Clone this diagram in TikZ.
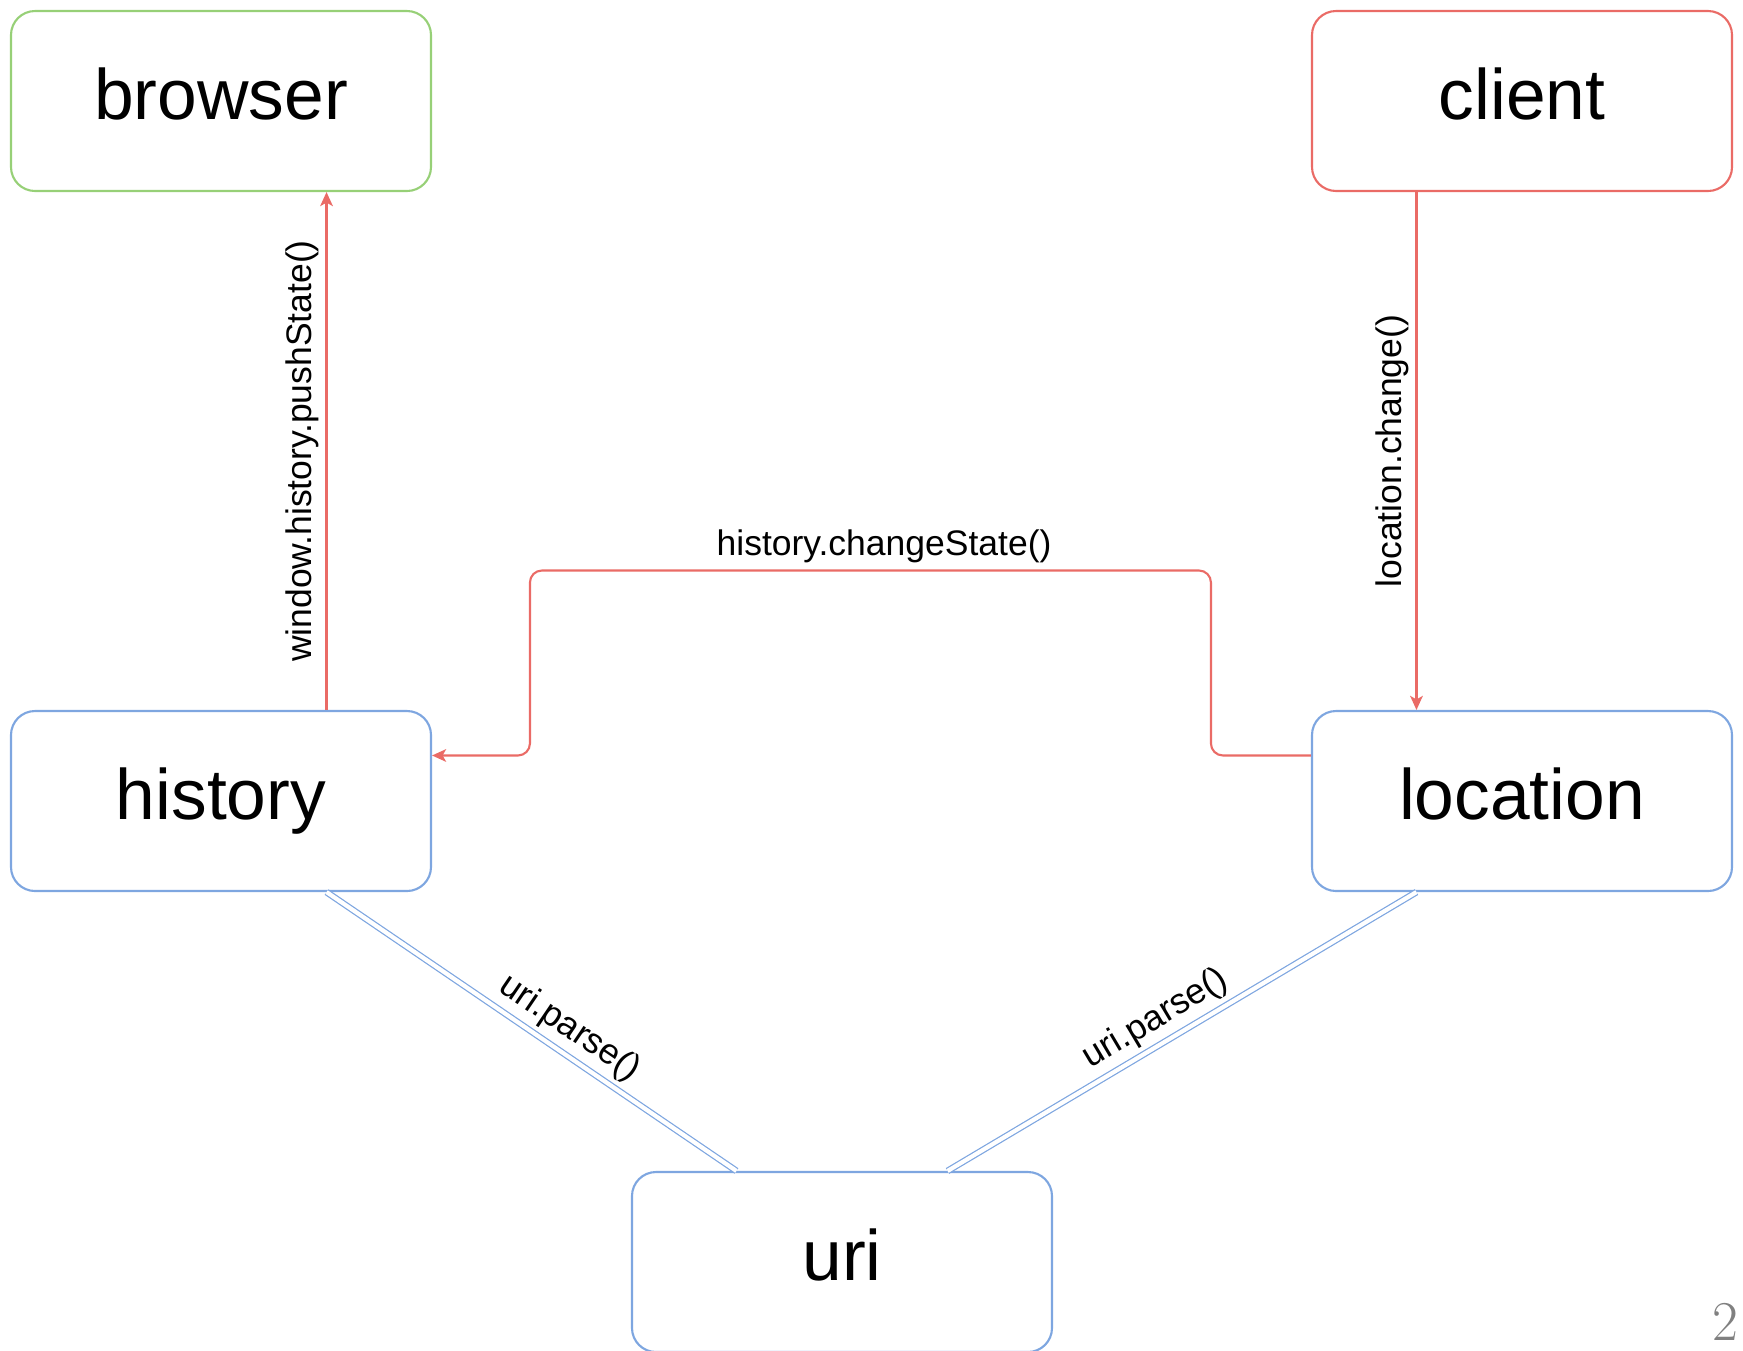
\documentclass[tikz,border=0pt]{standalone}
\usepackage{fontspec}
\usepackage{tikz}
\usetikzlibrary{arrows.meta, calc}
\newfontfamily\diagfont{Liberation Sans}
\definecolor{boxgreen}{HTML}{97D077}
\definecolor{boxred}{HTML}{EA6B66}
\definecolor{boxblue}{HTML}{7EA6E0}
\tikzset{
	block/.style={draw, rounded corners=0.24cm, line width=0.6pt, fill=white, minimum width=4.2cm, minimum height=1.8cm, inner sep=0pt, font=\diagfont\fontsize{20.3}{24}\selectfont, text height=15pt, text depth=4.5pt},
	call/.style={draw=boxred, line width=0.6pt, ->},
	parse/.style={draw=boxblue, line width=0.35pt, double, double distance=1.2pt},
	tag/.style={font=\diagfont\fontsize{10.1}{12}\selectfont, inner sep=2pt}
}
\begin{document}
\begin{tikzpicture}[>={Stealth[length=4pt, width=3.6pt, inset=1pt]}]
		\useasboundingbox (0,0) rectangle (17.43,-13.5);
		%top
			\node [block, draw=boxgreen] (browser) at (2.21,-1.01) {browser};
			\node [block, draw=boxred] (client) at (15.22,-1.01) {client};
		%middle
			\node [block, draw=boxblue] (history) at (2.21,-8.01) {history};
			\node [block, draw=boxblue] (location) at (15.22,-8.01) {location};
		%bottom
			\node [block, draw=boxblue] (uri) at (8.42,-12.62) {uri};
		%calls
			\draw [call] ($(history.north west)!0.75!(history.north east)$) to node [tag, midway, rotate=90, anchor=south] {window.history.pushState()} ($(browser.south west)!0.75!(browser.south east)$);
			\draw [call] ($(client.south west)!0.25!(client.south east)$) to node [tag, midway, rotate=90, anchor=south] {location.change()} ($(location.north west)!0.25!(location.north east)$);
			\draw [call, rounded corners=0.12cm] ($(location.north west)!0.25!(location.south west)$) -- ++(-1.00,0) -- ++(0,1.85) -- node [tag, above, pos=0.48] {history.changeState()} ++(-6.81,0) -- ++(0,-1.85) -- ($(history.north east)!0.25!(history.south east)$);
		%parse links
			\draw [parse] ($(history.south west)!0.75!(history.south east)$) to node [tag, sloped, above, pos=0.56] {uri.parse()} ($(uri.north west)!0.25!(uri.north east)$);
			\draw [parse] ($(uri.north west)!0.75!(uri.north east)$) to node [tag, sloped, above, pos=0.47] {uri.parse()} ($(location.south west)!0.25!(location.south east)$);
		%page number
			\node [anchor=base east, inner sep=0pt, text=black!50, font=\fontsize{16}{19}\selectfont] (pagenum) at (17.39,-13.40) {2};
\end{tikzpicture}
\end{document}
